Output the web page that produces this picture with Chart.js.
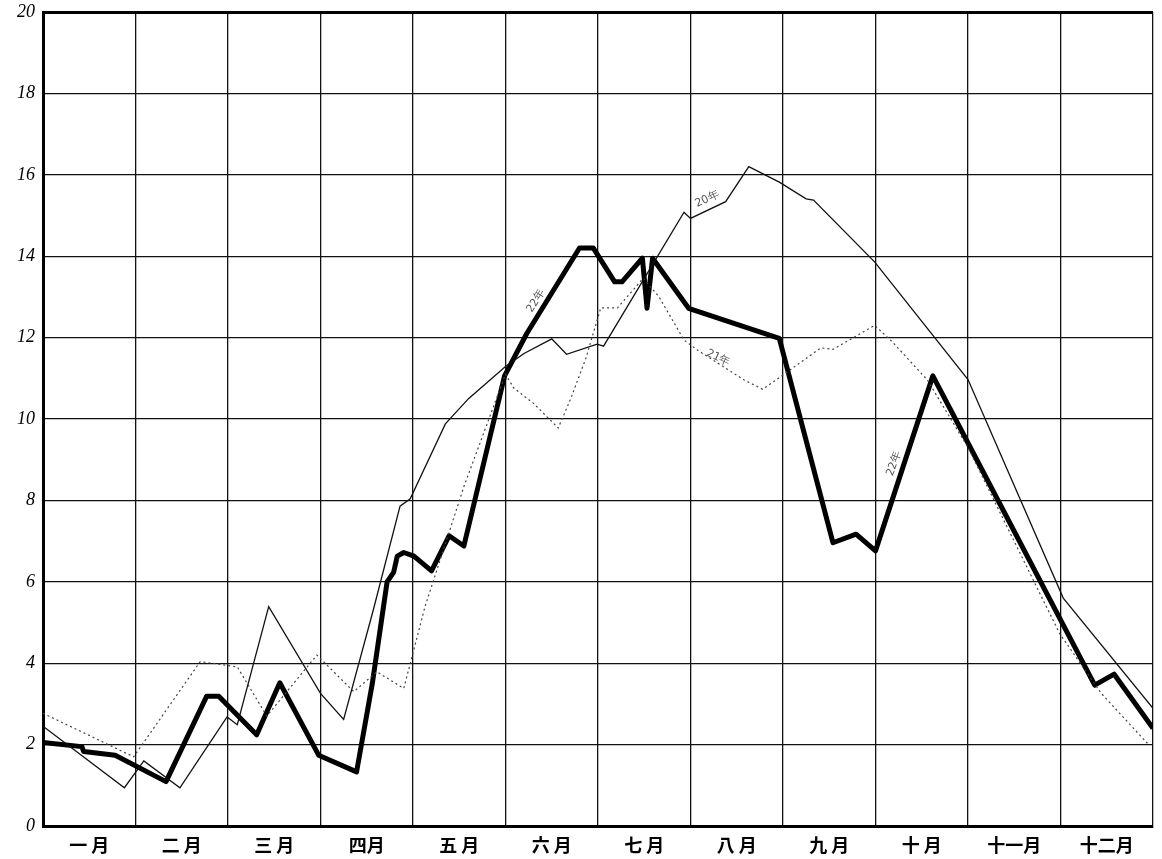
<!DOCTYPE html>
<html>
<head>
<meta charset="utf-8">
<script src="https://cdn.jsdelivr.net/npm/chart.js@4.4.1/dist/chart.umd.min.js"></script>
<style>
  html, body { margin: 0; padding: 0; background: #fff; }
  #wrap { width: 1162px; height: 859px; }
</style>
</head>
<body>
<div id="wrap"><canvas id="chart"></canvas></div>
<script>
// Month labels (one per column)
const months = ["一 月", "二 月", "三 月", "四月", "五 月", "六 月", "七 月", "八 月", "九 月", "十 月", "十一月", "十二月"];

// Thick line (x in months from start of year)
const thickX = [0, 0.42, 0.44, 0.78, 1.33, 1.77, 1.9, 2.31, 2.56, 2.98, 3.39, 3.56, 3.72, 3.79, 3.83, 3.9, 4.01, 4.2, 4.39, 4.55, 4.99, 5.23, 5.8, 5.95, 6.18, 6.26, 6.48, 6.53, 6.59, 6.98, 7.96, 8.54, 8.79, 9.0, 9.62, 10.0, 11.37, 11.58, 12.0];
const thickY = [2.05, 1.95, 1.83, 1.74, 1.09, 3.19, 3.19, 2.24, 3.52, 1.74, 1.33, 3.5, 6.0, 6.23, 6.63, 6.72, 6.63, 6.27, 7.13, 6.88, 11.06, 12.1, 14.2, 14.2, 13.37, 13.37, 13.95, 12.72, 13.95, 12.72, 11.98, 6.96, 7.17, 6.76, 11.06, 9.41, 3.46, 3.73, 2.4];

// Thin solid line
const thinX = [0, 0.88, 1.09, 1.48, 1.99, 2.1, 2.44, 3.0, 3.25, 3.57, 3.86, 3.97, 4.35, 4.6, 5.0, 5.2, 5.5, 5.66, 5.99, 6.06, 6.93, 7.0, 7.38, 7.63, 7.96, 8.25, 8.33, 8.99, 10.0, 11.03, 12.0];
const thinY = [2.45, 0.94, 1.6, 0.94, 2.68, 2.49, 5.39, 3.26, 2.62, 5.3, 7.86, 8.04, 9.88, 10.5, 11.29, 11.61, 11.97, 11.59, 11.84, 11.79, 15.08, 14.93, 15.34, 16.2, 15.82, 15.41, 15.38, 13.86, 10.97, 5.6, 2.89];

// Dotted line
const dotX = [0, 0.98, 1.7, 2.1, 2.42, 2.96, 3.36, 3.61, 3.9, 4.13, 4.55, 5.0, 5.09, 5.3, 5.57, 5.7, 5.87, 6.03, 6.21, 6.49, 6.66, 6.93, 7.07, 7.58, 7.78, 7.98, 8.41, 8.54, 8.99, 9.18, 9.56, 10.0, 10.99, 11.44, 11.94];
const dotY = [2.77, 1.7, 4.04, 3.91, 2.7, 4.2, 3.3, 3.79, 3.38, 5.39, 8.34, 11.1, 10.76, 10.39, 9.78, 10.47, 11.5, 12.73, 12.73, 13.46, 13.0, 11.94, 11.7, 10.96, 10.73, 11.05, 11.75, 11.71, 12.3, 11.9, 10.96, 9.3, 4.73, 3.26, 2.03];

// Handwritten notes beside the curves
const notes = [
  { text: "22年", x: 5.33, y: 12.9, rot: -58 },
  { text: "20年", x: 7.18, y: 15.4, rot: -25 },
  { text: "21年", x: 7.3, y: 11.5, rot: 25 },
  { text: "22年", x: 9.2, y: 8.9, rot: -70 }
];

const toPoints = (xs, ys) => xs.map((x, i) => ({ x: x, y: ys[i] }));

// draws the small notes at data coordinates
const notePlugin = {
  id: "notes",
  afterDatasetsDraw(chart) {
    const { ctx, scales } = chart;
    ctx.save();
    ctx.fillStyle = "#555";
    ctx.font = "11px 'DejaVu Sans'";
    ctx.textAlign = "center";
    ctx.textBaseline = "middle";
    notes.forEach((n) => {
      ctx.save();
      ctx.translate(scales.x.getPixelForValue(n.x), scales.y.getPixelForValue(n.y));
      ctx.rotate((n.rot * Math.PI) / 180);
      ctx.fillText(n.text, 0, 0);
      ctx.restore();
    });
    ctx.restore();
  },
};

const ctx = document.getElementById("chart").getContext("2d");
new Chart(ctx, {
  type: "line",
  data: {
    datasets: [
      {
        data: toPoints(thinX, thinY),
        borderColor: "#111",
        borderWidth: 1.3,
      },
      {
        data: toPoints(dotX, dotY),
        borderColor: "#444",
        borderWidth: 1.2,
        borderDash: [2, 3],
      },
      {
        data: toPoints(thickX, thickY),
        borderColor: "#000",
        borderWidth: 5,
        borderJoinStyle: "round",
      },
    ],
  },
  options: {
    responsive: true,
    maintainAspectRatio: false,
    animation: false,
    layout: { padding: { top: 12, right: 9, left: 0, bottom: 0 } },
    elements: { point: { radius: 0 }, line: { tension: 0 } },
    plugins: { legend: { display: false }, tooltip: { enabled: false } },
    scales: {
      x: {
        type: "linear",
        position: "bottom",
        weight: 0,
        min: 0,
        max: 12,
        ticks: { stepSize: 1, display: false },
        grid: { color: "#111", lineWidth: 1.3, drawTicks: false },
        border: { color: "#000", width: 3 },
        afterFit: (s) => { s.height = 0; },
      },
      xm: {
        type: "category",
        position: "bottom",
        weight: 1,
        labels: months,
        offset: true,
        grid: { display: false },
        border: { display: false },
        ticks: {
          color: "#000",
          padding: 0,
          maxRotation: 0,
          font: { family: "'Noto Sans CJK JP'", size: 18, weight: "bold" },
        },
        afterFit: (s) => { s.height = 33; },
      },
      y: {
        min: 0,
        max: 20,
        ticks: {
          stepSize: 2,
          color: "#000",
          padding: 8,
          font: { family: "'Liberation Serif'", size: 18, style: "italic" },
        },
        grid: {
          color: (c) => (c.tick && c.tick.value === 20 ? "#000" : "#111"),
          lineWidth: (c) => (c.tick && c.tick.value === 20 ? 3 : 1.3),
          drawTicks: false,
        },
        border: { color: "#000", width: 3 },
        afterFit: (s) => { s.width = 43; s.paddingTop = 0; s.paddingBottom = 0; },
      },
    },
  },
  plugins: [notePlugin],
});
</script>
</body>
</html>
